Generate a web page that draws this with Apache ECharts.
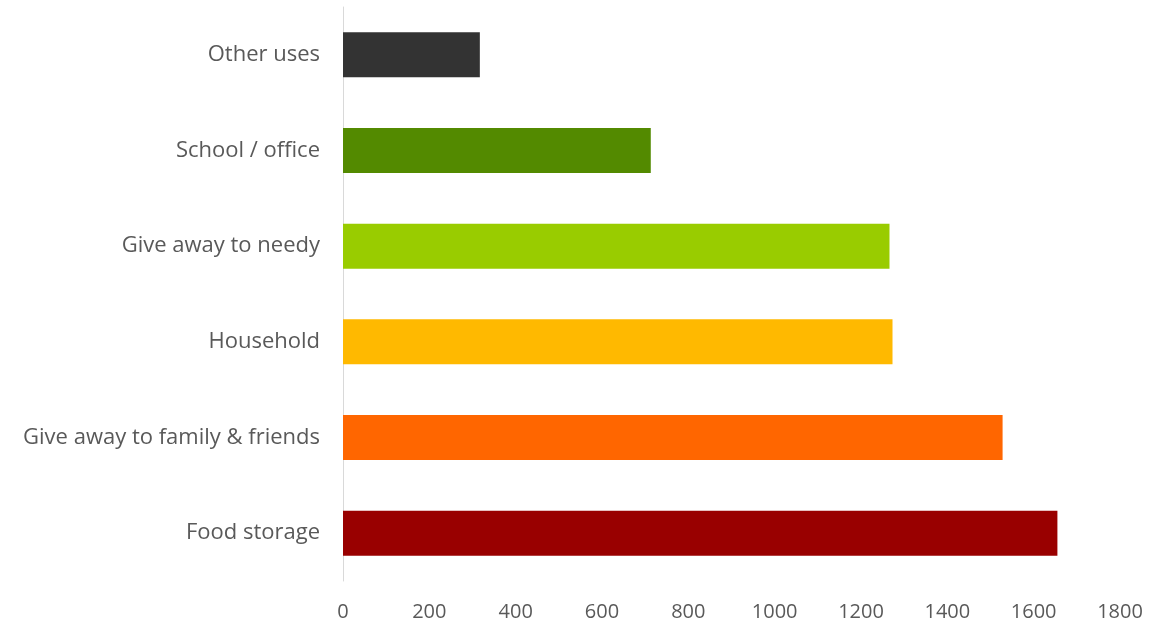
<!DOCTYPE html>
<html>
<head>
<meta charset="utf-8">
<script src="https://cdn.jsdelivr.net/npm/echarts@6/dist/echarts.min.js"></script>
<style>html,body{margin:0;padding:0;background:#fff}#c{width:1150px;height:631px}</style>
</head>
<body>
<div id="c"></div>
<script>
const categories = ['Food storage','Give away to family & friends','Household','Give away to needy','School / office','Other uses'];
const values = [1655, 1528, 1273, 1266, 713, 317];
const colors = ['#990000','#ff6600','#ffb900','#99cc00','#538a00','#333333'];
const xTicks = [0, 1800, 200];

const chart = echarts.init(document.getElementById('c'));
chart.setOption({
  animation: false,
  grid: {left: 343, right: 30, top: 7, bottom: 50, containLabel: false},
  xAxis: {
    type: 'value', min: xTicks[0], max: xTicks[1], interval: xTicks[2],
    axisLine: {show: false}, axisTick: {show: false}, splitLine: {show: false},
    axisLabel: {color: '#595959', fontFamily: 'Open Sans', fontSize: 20, margin: 21,
      formatter: v => String(v)}
  },
  yAxis: {
    type: 'category', data: categories,
    axisLine: {show: true, lineStyle: {color: '#d9d9d9', width: 1}},
    axisTick: {show: false},
    axisLabel: {color: '#595959', fontFamily: 'Open Sans', fontSize: 22, margin: 23}
  },
  series: [{
    type: 'bar',
    data: values.map((v, i) => ({value: v, itemStyle: {color: colors[i]}})),
    barCategoryGap: '53%'
  }]
});
</script>
</body>
</html>
